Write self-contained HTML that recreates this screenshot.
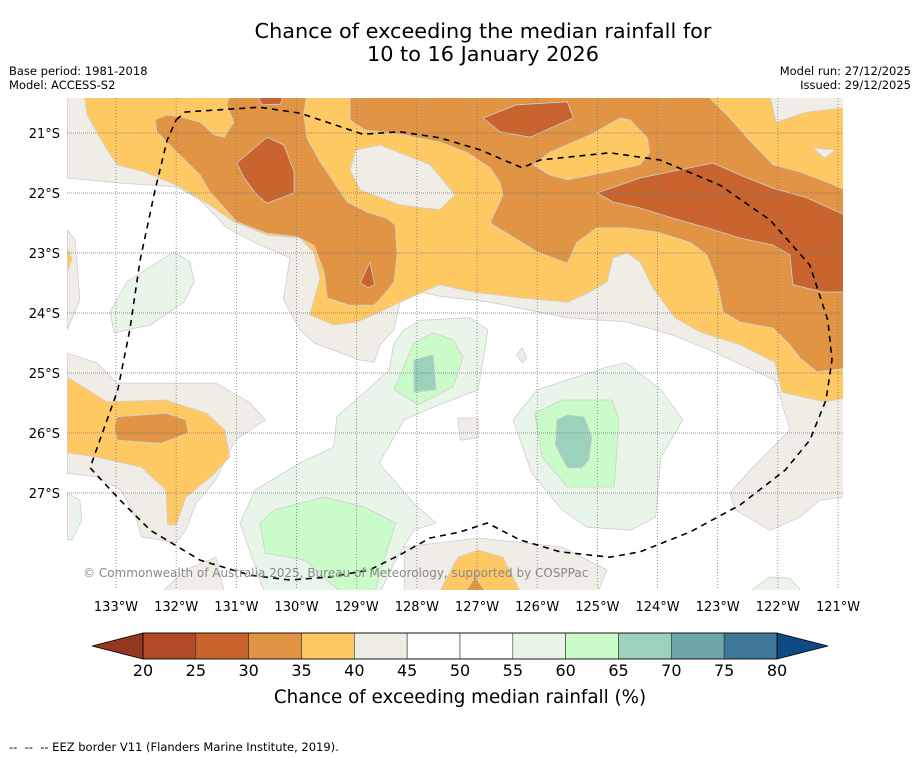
<!DOCTYPE html>
<html><head><meta charset="utf-8"><style>
html,body{margin:0;padding:0;background:#fff;}
body{width:919px;height:758px;overflow:hidden;font-family:"Liberation Sans","DejaVu Sans",sans-serif;}
svg{display:block}
</style></head><body>
<svg id="chart" width="919" height="758" viewBox="0 0 919 758" xmlns="http://www.w3.org/2000/svg">
<text x="483" y="38" text-anchor="middle" font-size="20.8" fill="#000" font-family="DejaVu Sans, sans-serif">Chance of exceeding the median rainfall for</text>
<text x="483" y="61" text-anchor="middle" font-size="20.8" fill="#000" font-family="DejaVu Sans, sans-serif">10 to 16 January 2026</text>
<text x="9" y="75" font-size="11.5" font-family="DejaVu Sans, sans-serif">Base period: 1981-2018</text>
<text x="9" y="89" font-size="11.5" font-family="DejaVu Sans, sans-serif">Model: ACCESS-S2</text>
<text x="911" y="75" text-anchor="end" font-size="11.5" font-family="DejaVu Sans, sans-serif">Model run: 27/12/2025</text>
<text x="911" y="89" text-anchor="end" font-size="11.5" font-family="DejaVu Sans, sans-serif">Issued: 29/12/2025</text>
<defs><clipPath id="mapclip"><rect x="67" y="98" width="776" height="492"/></clipPath></defs>
<g id="map" clip-path="url(#mapclip)">
<rect x="67" y="98" width="776" height="492" fill="#fff"/>
<g id="fills"></g><g id="grid"></g><g id="border"></g>
<text x="83" y="577" font-size="12" fill="#888" font-family="DejaVu Sans, sans-serif">© Commonwealth of Australia 2025, Bureau of Meteorology, supported by COSPPac</text>
</g>
<g id="axes"></g>
<g id="colorbar"></g>
<text x="460" y="703" text-anchor="middle" font-size="18.3" font-family="DejaVu Sans, sans-serif">Chance of exceeding median rainfall (%)</text>
<text x="9" y="751" font-size="11.5" font-family="DejaVu Sans, sans-serif" xml:space="preserve">--  --  -- EEZ border V11 (Flanders Marine Institute, 2019).</text>
</svg>
<script>
// ---- data (lon °W, lat °S) ----
const lonTicks=[133,132,131,130,129,128,127,126,125,124,123,122,121];
const latTicks=[21,22,23,24,25,26,27];
const cbLevels=[20,25,30,35,40,45,50,55,60,65,70,75,80];
const cbColors=["#b04a27","#c9642f","#e09444","#fec963","#f0ece6","#ffffff","#ffffff","#e9f5e9","#c9fcc9","#9cd1bb","#6fa6a9","#3e7797"];
const beigeTop=[[133.81,20.37],[120.88,20.37],[120.88,27.07],[121.30,27.12],[121.63,27.40],[122.13,27.62],[122.71,27.28],[122.80,27.0],[122.46,26.62],[121.80,25.95],[122.05,25.12],[123.13,24.62],[123.74,24.37],[124.51,24.15],[125.50,24.08],[126.78,23.82],[127.62,23.72],[127.95,23.65],[128.28,23.82],[128.38,24.28],[128.61,24.53],[128.71,24.82],[128.96,24.78],[129.71,24.5],[129.94,24.28],[130.22,23.78],[130.11,23.08],[130.71,22.82],[131.16,22.58],[131.60,22.12],[131.99,21.9],[132.98,21.83],[133.81,21.75]];
const yellowTop=[[133.53,20.37],[122.13,20.37],[122.03,20.82],[121.52,20.65],[120.88,20.58],[120.88,25.42],[121.23,25.48],[121.93,25.32],[122.05,24.82],[122.63,24.53],[123.29,24.32],[123.71,24.08],[124.08,23.58],[124.29,23.15],[124.51,23.0],[124.74,23.08],[124.84,23.48],[125.12,23.65],[125.50,23.82],[126.24,23.75],[127.07,23.65],[127.62,23.53],[128.28,23.82],[128.61,23.98],[128.99,24.15],[129.38,24.2],[129.78,24.03],[129.61,23.42],[129.71,23.0],[129.94,22.75],[130.49,22.7],[131.04,22.48],[131.44,22.2],[131.99,21.87],[132.53,21.65],[132.98,21.53],[133.2,21.2],[133.48,20.7]];
const beigeHole1=[[129.01,21.28],[128.61,21.2],[127.78,21.53],[127.37,22.03],[127.62,22.28],[128.28,22.2],[128.94,21.95],[129.11,21.62]];
const beigeHole2=[[121.42,21.25],[121.05,21.28],[121.22,21.42]];
const orangeA=[[129.11,20.37],[123.18,20.37],[122.80,20.75],[122.51,21.08],[122.08,21.53],[121.63,21.65],[121.18,21.82],[120.88,21.95],[120.88,24.92],[121.35,24.98],[121.63,24.75],[121.80,24.53],[122.08,24.25],[122.63,24.15],[122.91,23.98],[123.01,23.48],[123.18,23.03],[123.46,22.82],[124.01,22.65],[124.51,22.58],[125.01,22.58],[125.34,22.82],[125.50,23.17],[126.0,22.98],[126.78,22.5],[126.57,22.03],[126.62,21.82],[126.78,21.58],[127.17,21.32],[127.62,21.15],[128.28,21.02],[128.86,20.95],[129.11,20.78]];
const yellowIsland=[[126.07,21.53],[125.79,21.32],[125.12,21.03],[124.62,20.75],[124.46,20.78],[124.17,21.08],[124.13,21.32],[124.29,21.53],[124.84,21.65],[125.50,21.78],[125.79,21.7]];
const orangeB=[[132.35,20.78],[132.32,20.98],[131.99,21.32],[131.60,21.7],[131.44,21.98],[130.99,22.48],[130.49,22.67],[129.99,22.73],[129.71,22.87],[129.54,23.32],[129.49,23.75],[129.11,23.87],[128.71,23.87],[128.55,23.7],[128.38,23.48],[128.33,23.03],[128.36,22.53],[128.50,22.42],[128.83,22.32],[129.16,22.15],[129.38,21.82],[129.61,21.48],[129.83,21.08],[129.88,20.67],[129.83,20.37],[131.11,20.37],[131.16,20.53],[131.04,20.82],[131.20,21.07],[131.37,21.03],[131.60,20.82],[131.94,20.73],[132.15,20.7]];
const dark1=[[130.99,21.5],[130.49,21.07],[130.21,21.2],[130.04,21.65],[130.04,22.0],[130.49,22.17],[130.66,22.03],[130.87,21.75]];
const dark2=[[130.66,20.37],[130.21,20.37],[130.27,20.52],[130.57,20.53]];
const dark3=[[128.78,23.15],[128.70,23.53],[128.81,23.58],[128.94,23.5]];
const dark4=[[126.90,20.75],[126.34,20.53],[125.50,20.48],[125.40,20.75],[126.12,21.07],[126.62,20.98]];
const dark5=[[125.01,22.0],[124.29,21.75],[123.08,21.5],[122.63,21.7],[122.08,21.92],[121.52,22.08],[120.88,22.37],[120.88,23.65],[121.25,23.65],[121.75,23.53],[121.80,23.03],[122.08,22.87],[122.63,22.75],[123.18,22.58],[123.74,22.42],[124.29,22.25],[124.74,22.15]];
const beigeLeft=[[133.81,24.67],[133.32,24.83],[132.98,25.17],[132.34,25.17],[131.34,25.17],[130.77,25.5],[130.52,25.78],[131.02,26.12],[131.34,26.78],[131.67,27.17],[131.84,27.62],[132.0,27.83],[132.58,27.73],[132.67,27.4],[132.92,26.95],[133.32,26.73],[133.81,26.67]];
const yellowLeft=[[133.81,25.07],[133.15,25.48],[132.17,25.45],[131.50,25.67],[131.19,25.95],[131.11,26.4],[131.42,26.73],[131.84,27.07],[132.0,27.53],[132.14,27.53],[132.17,26.95],[132.58,26.57],[133.32,26.4],[133.81,26.33]];
const orangeLeft=[[132.98,25.73],[132.17,25.67],[131.84,25.78],[131.80,26.0],[132.25,26.17],[132.98,26.12],[133.03,25.9]];
const beigeStrip=[[133.81,22.62],[133.68,22.78],[133.6,23.78],[133.81,24.28]];
const yellowBit=[[133.81,22.92],[133.73,23.1],[133.81,23.32]];
const greenW=[[133.10,23.98],[132.82,23.48],[132.04,22.98],[131.77,23.15],[131.70,23.48],[131.87,23.82],[132.43,24.2],[133.03,24.33]];
const greenC=[[128.21,24.28],[127.95,24.12],[127.12,24.08],[126.82,24.28],[126.98,25.28],[127.73,25.57],[128.21,25.78],[128.63,26.5],[128.05,27.17],[127.68,27.5],[128.05,27.62],[128.38,28.17],[128.63,28.7],[130.52,28.7],[130.94,27.5],[130.69,26.95],[129.94,26.5],[129.38,26.23],[129.33,25.73],[128.88,25.33],[128.46,24.95],[128.38,24.5]];
const green2C=[[128.38,25.28],[128.05,24.5],[127.73,24.33],[127.40,24.45],[127.23,24.73],[127.40,25.23],[127.98,25.53]];
const tealC=[[128.05,24.78],[127.73,24.7],[127.68,25.28],[128.05,25.32]];
const green2S=[[130.61,27.5],[130.36,27.28],[129.54,27.07],[128.88,27.23],[128.35,27.5],[128.55,28.12],[128.71,28.7],[129.21,28.7],[129.86,28.12],[130.52,28.0]];
const greenE=[[126.40,25.78],[126.0,25.28],[124.84,24.9],[124.52,24.83],[123.94,25.28],[123.58,25.78],[123.94,26.4],[123.98,26.78],[124.03,27.4],[124.44,27.62],[125.17,27.57],[125.59,27.28],[126.09,26.67]];
const green2E=[[126.04,25.67],[125.59,25.45],[124.76,25.45],[124.64,25.78],[124.72,26.9],[125.50,26.9],[125.92,26.4]];
const tealE=[[125.67,25.78],[125.50,25.7],[125.22,25.73],[125.09,26.07],[125.14,26.45],[125.26,26.58],[125.50,26.58],[125.70,26.2]];
const beigeBottom=[[128.21,27.9],[126.98,27.75],[125.59,27.9],[124.84,28.28],[125.01,28.7],[128.21,28.7]];
const yellowBottom=[[127.65,28.7],[127.32,28.07],[126.98,27.95],[126.57,28.07],[126.25,28.7]];
const orangeBottom=[[127.23,28.7],[127.03,28.4],[126.82,28.7]];
const beigeBL=[[132.29,28.7],[131.84,28.28],[131.34,28.07],[131.19,28.7]];
const greenL=[[133.81,27.0],[133.60,27.12],[133.57,27.45],[133.73,27.78],[133.81,27.78]];
const greenBR=[[122.55,28.7],[122.13,28.4],[121.80,28.42],[121.55,28.7]];
const beigeSmall=[[127.32,25.75],[126.98,25.75],[126.98,26.08],[127.28,26.12]];
const beigeDiamond=[[126.34,24.7],[126.25,24.58],[126.17,24.75],[126.25,24.83]];
const eezBorder=[[132.0,20.78],[131.85,20.65],[130.61,20.57],[129.94,20.67],[128.90,21.02],[128.28,20.98],[127.62,21.08],[126.95,21.28],[126.25,21.58],[125.95,21.45],[124.79,21.33],[123.96,21.45],[122.96,21.87],[122.13,22.45],[121.47,23.2],[121.17,24.12],[121.10,24.78],[121.20,25.45],[121.47,26.12],[121.88,26.62],[122.63,27.2],[123.46,27.65],[124.29,27.98],[124.79,28.07],[125.62,27.98],[126.29,27.78],[126.83,27.5],[127.28,27.65],[127.78,27.75],[128.28,28.03],[128.78,28.28],[129.44,28.4],[130.11,28.45],[130.77,28.37],[131.60,28.12],[132.43,27.62],[132.93,27.12],[133.43,26.58],[133.27,26.12],[132.97,25.28],[132.77,24.28],[132.60,23.12],[132.35,21.95],[132.15,21.12],[132.0,20.78]];

// ---- scales ----
const NS="http://www.w3.org/2000/svg";
function xS(lon){return 116+(133-lon)*60.17;}
function yS(lat){return 133+(lat-21)*60;}
function cbX(v){return 143+(v-20)*(634/60);}
function mk(tag,attrs,parent){const e=document.createElementNS(NS,tag);for(const k in attrs)e.setAttribute(k,attrs[k]);parent.appendChild(e);return e;}
function pts(arr){return arr.map(p=>xS(p[0]).toFixed(1)+","+yS(p[1]).toFixed(1)).join(" ");}

const C={beige:"#f0ece6",yellow:"#fec963",orange:"#e09444",dark:"#c9642f",lg:"#e9f5e9",g:"#c9fcc9",teal:"#9cd1bb",white:"#ffffff"};
const layers=[
 ["beige-band-north",beigeTop,C.beige],["beige-strip-west",beigeStrip,C.beige],["yellow-bit-west",yellowBit,C.yellow],
 ["yellow-region-north",yellowTop,C.yellow],["beige-patch-1",beigeHole1,C.beige],["beige-patch-2",beigeHole2,C.beige],
 ["orange-region-east",orangeA,C.orange],["yellow-island",yellowIsland,C.yellow],["orange-region-west",orangeB,C.orange],
 ["dark-orange-1",dark1,C.dark],["dark-orange-2",dark2,C.dark],["dark-orange-3",dark3,C.dark],["dark-orange-4",dark4,C.dark],["dark-orange-5",dark5,C.dark],
 ["beige-region-west",beigeLeft,C.beige],["yellow-region-west",yellowLeft,C.yellow],["orange-region-southwest",orangeLeft,C.orange],
 ["beige-region-south",beigeBottom,C.beige],["yellow-region-south",yellowBottom,C.yellow],["orange-region-south",orangeBottom,C.orange],
 ["beige-region-southwest",beigeBL,C.beige],["beige-small",beigeSmall,C.beige],["beige-diamond",beigeDiamond,C.beige],
 ["light-green-west",greenW,C.lg],["light-green-central",greenC,C.lg],["green-central",green2C,C.g],["teal-central",tealC,C.teal],
 ["green-south",green2S,C.g],["light-green-east",greenE,C.lg],["green-east",green2E,C.g],["teal-east",tealE,C.teal],
 ["light-green-edge",greenL,C.lg],["light-green-southeast",greenBR,C.lg]
];
const fills=document.getElementById("fills");
layers.forEach(l=>{
 const p=mk("polygon",{points:pts(l[1]),fill:l[2],stroke:"#cfcfcf","stroke-width":"0.8","stroke-linejoin":"round"},fills);
 
 
});

// grid
const grid=document.getElementById("grid");
lonTicks.forEach(t=>{
 const ln=mk("line",{x1:xS(t),x2:xS(t),y1:98,y2:590,stroke:"#777","stroke-width":"0.8","stroke-dasharray":"1,2"},grid);
 
 
});
latTicks.forEach(t=>{
 const ln=mk("line",{x1:67,x2:843,y1:yS(t),y2:yS(t),stroke:"#777","stroke-width":"0.8","stroke-dasharray":"1,1"},grid);
 
 
});
// border
const bd=mk("polyline",{points:pts(eezBorder),fill:"none",stroke:"#000","stroke-width":"1.6","stroke-dasharray":"6,5","stroke-linejoin":"round"},document.getElementById("border"));



// axes labels
const axes=document.getElementById("axes");
lonTicks.forEach(t=>{
 const tx=mk("text",{x:xS(t),y:611,"text-anchor":"middle","font-size":"13","font-family":"DejaVu Sans, sans-serif"},axes);
 tx.textContent=t+"°W";
 
 
});
latTicks.forEach(t=>{
 const tx=mk("text",{x:60,y:yS(t)+5,"text-anchor":"end","font-size":"13","font-family":"DejaVu Sans, sans-serif"},axes);
 tx.textContent=t+"°S";
 
 
});

// colorbar
const cb=document.getElementById("colorbar");
const lt=mk("polygon",{points:"92,646 "+cbX(20)+",633 "+cbX(20)+",659",fill:"#953620",stroke:"#000","stroke-width":"0.8"},cb);


const rt=mk("polygon",{points:"828,646 "+cbX(80)+",633 "+cbX(80)+",659",fill:"#0e4a82",stroke:"#000","stroke-width":"0.8"},cb);


cbColors.forEach((c,i)=>{
 const r=mk("rect",{x:cbX(cbLevels[i]),y:633,width:cbX(cbLevels[i+1])-cbX(cbLevels[i]),height:26,fill:c,stroke:"#333","stroke-width":"0.6"},cb);
 
 
});
mk("rect",{x:cbX(20),y:633,width:cbX(80)-cbX(20),height:26,fill:"none",stroke:"#000","stroke-width":"0.8"},cb);
cbLevels.forEach(v=>{
 const tx=mk("text",{x:cbX(v),y:676,"text-anchor":"middle","font-size":"16","font-family":"DejaVu Sans, sans-serif"},cb);
 tx.textContent=v;
 
 
});
</script>
</body></html>
